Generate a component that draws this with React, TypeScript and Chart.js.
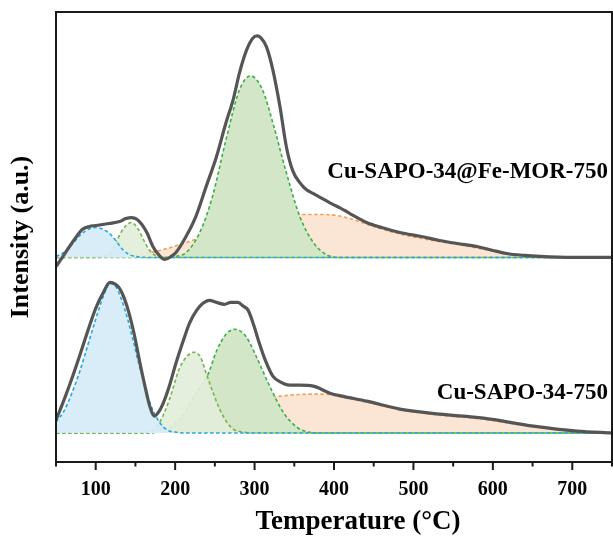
import React, { useEffect, useRef } from "react";
import { Chart, registerables } from "chart.js";

Chart.register(...registerables);

// ---- axis ----
const X_MIN = 50;
const X_MAX = 750;
const X_TICKS = [100, 200, 300, 400, 500, 600, 700];
const X_MINOR_STEP = 50;
const Y_MIN = -29;
const Y_MAX = 422;
const TOP_OFFSET = 176; // vertical stacking offset of the upper sample

const LABEL_TOP = "Cu-SAPO-34@Fe-MOR-750";
const LABEL_BOTTOM = "Cu-SAPO-34-750";
const X_TITLE = "Temperature (°C)";
const Y_TITLE = "Intensity (a.u.)";

// ---- Cu-SAPO-34@Fe-MOR-750 (upper) : [temperature, intensity] ----
const topCurve = [
  [50, -9], [58, 0], [67, 11], [75, 20], [83, 28], [92, 31], [100, 32], [117, 34], [130, 36],
  [138, 39], [145, 40], [150, 39], [155, 36], [160, 31], [165, 24], [172, 11], [180, 2],
  [187, -2], [195, 1], [201, 5], [213, 20], [226, 41], [239, 71], [252, 101], [264, 135],
  [273, 158], [281, 185], [290, 208], [298, 220], [303, 222], [308, 220], [315, 211],
  [323, 188], [332, 151], [340, 111], [348, 87], [357, 75], [365, 68], [374, 64], [383, 60],
  [399, 53], [407, 50], [420, 44], [441, 35], [460, 30], [483, 25], [510, 21], [533, 17],
  [555, 14], [580, 11], [600, 7], [617, 4], [640, 2], [659, 1], [700, 0], [750, 0],
];
const topBlue = [
  [50, 1], [60, 5], [70, 13], [80, 22], [90, 28], [100, 30], [110, 28], [120, 22], [127, 15],
  [134, 8], [142, 3], [150, 1], [165, 0], [750, 0],
];
const topLightGreen = [
  [50, 0], [100, 0], [110, 1], [119, 5], [126, 16], [135, 29], [145, 35], [153, 29], [160, 18],
  [167, 8], [175, 2], [185, 0], [750, 0],
];
const topGreen = [
  [50, 0], [190, 0], [200, 1], [214, 5], [231, 25], [247, 61], [264, 118], [281, 168],
  [295, 182], [310, 168], [323, 135], [340, 85], [357, 41], [374, 15], [390, 3], [410, 0],
  [750, 0],
];
const topOrange = [
  [50, 0], [130, 1], [150, 2], [170, 5], [190, 9], [210, 14], [240, 22], [270, 31], [300, 38],
  [330, 42], [360, 43], [390, 43], [420, 39], [450, 31], [480, 24], [510, 19], [540, 15],
  [570, 11], [600, 6.5], [630, 3], [660, 1], [690, 0], [750, 0],
];

// ---- Cu-SAPO-34-750 (lower) : [temperature, intensity] ----
const bottomCurve = [
  [50, 13], [60, 33], [71, 57], [80, 78], [92, 107], [100, 125], [109, 140], [118, 151],
  [125, 149], [130, 145], [136, 135], [142, 120], [149, 97], [155, 73], [162, 47], [168, 27],
  [174, 17], [180, 22], [185, 30], [193, 48], [201, 70], [210, 92], [218, 110], [227, 123],
  [235, 130], [243, 133], [252, 131], [262, 129], [270, 131], [279, 131], [286, 127],
  [292, 123], [299, 108], [306, 90], [314, 72], [323, 57], [333, 51], [344, 48], [357, 48],
  [374, 47], [395, 40], [410, 37], [441, 32], [483, 24], [533, 19], [588, 15], [651, 7],
  [706, 2], [750, 0],
];
const bottomBlue = [
  [50, 11], [60, 22], [70, 40], [80, 62], [90, 88], [100, 114], [110, 138], [118, 150],
  [125, 147], [132, 135], [140, 115], [148, 90], [155, 67], [162, 47], [168, 31], [175, 18],
  [181, 10], [190, 3], [200, 1], [215, 0], [750, 0],
];
const bottomLightGreen = [
  [50, 0], [160, 0], [172, 3], [180, 10], [193, 34], [205, 64], [215, 77], [224, 81],
  [232, 76], [239, 60], [248, 40], [256, 24], [265, 11], [273, 4], [285, 1], [300, 0], [750, 0],
];
const bottomGreen = [
  [50, 0], [170, 0], [180, 2], [195, 6], [210, 18], [225, 38], [241, 58], [252, 82], [264, 99],
  [275, 104], [289, 97], [302, 77], [319, 47], [336, 21], [353, 6], [365, 1.5], [380, 0],
  [750, 0],
];
const bottomOrange = [
  [50, 0], [170, 1], [185, 3], [200, 5], [220, 10], [240, 16], [260, 23], [280, 29], [300, 33],
  [323, 36], [345, 38], [370, 39], [390, 39], [410, 36], [441, 31], [483, 23.5], [533, 18],
  [588, 14], [620, 10], [651, 6.5], [680, 3.5], [706, 1.5], [730, 0.5], [750, 0],
];

// ---- styles ----
const CURVE = { line: "#555555", fill: null };
const BLUE = { line: "#22a8e0", fill: "rgba(214,235,248,0.92)" };
const LGREEN = { line: "#79b24a", fill: "rgba(226,238,218,0.92)" };
const GREEN = { line: "#3aae48", fill: "rgb(211,231,200)" };
const ORANGE = { line: "#f2a05a", fill: "rgb(251,230,213)" };

const FONT = '"Liberation Serif", "Times New Roman", serif';

function makeDataset(points: number[][], offset: number, style: any, main: boolean, order: number) {
  return {
    data: points.map(([t, v]) => ({ x: t, y: v + offset })),
    borderColor: style.line,
    backgroundColor: style.fill || "transparent",
    fill: style.fill ? { value: offset } : false,
    borderWidth: main ? 3.2 : 1.6,
    borderDash: main ? [] : [3.5, 2.5],
    pointRadius: 0,
    cubicInterpolationMode: "monotone",
    order,
  };
}

const decorPlugin = {
  id: "decor",
  afterDraw(chart: any) {
    const { ctx, chartArea: a, scales } = chart;
    const x = scales.x;
    const y = scales.y;
    ctx.save();
    // frame
    ctx.strokeStyle = "#1a1a1a";
    ctx.lineWidth = 2;
    ctx.strokeRect(a.left, a.top, a.right - a.left, a.bottom - a.top);
    // x ticks (major & minor, outward)
    for (let v = X_MIN; v <= X_MAX; v += X_MINOR_STEP) {
      const px = x.getPixelForValue(v);
      const major = X_TICKS.includes(v);
      ctx.beginPath();
      ctx.moveTo(px, a.bottom);
      ctx.lineTo(px, a.bottom + (major ? 8 : 4.5));
      ctx.stroke();
    }
    // sample labels
    ctx.fillStyle = "#000";
    ctx.font = `bold 23px ${FONT}`;
    ctx.textAlign = "right";
    ctx.textBaseline = "middle";
    ctx.fillText(LABEL_TOP, x.getPixelForValue(745), y.getPixelForValue(TOP_OFFSET + 86));
    ctx.fillText(LABEL_BOTTOM, x.getPixelForValue(745), y.getPixelForValue(40));
    // axis titles
    ctx.font = `bold 27px ${FONT}`;
    ctx.textAlign = "center";
    ctx.fillText(X_TITLE, 358, 522);
    ctx.save();
    ctx.font = `bold 26px ${FONT}`;
    ctx.translate(21, (a.top + a.bottom) / 2);
    ctx.rotate(-Math.PI / 2);
    ctx.fillText(Y_TITLE, 0, 0);
    ctx.restore();
    ctx.restore();
  },
};

export default function App() {
  const canvasRef = useRef<HTMLCanvasElement | null>(null);

  useEffect(() => {
    document.body.style.margin = "0";
    const canvas = canvasRef.current;
    if (!canvas) return;
    const datasets = [
      makeDataset(topCurve, TOP_OFFSET, CURVE, true, 0),
      makeDataset(topBlue, TOP_OFFSET, BLUE, false, 1),
      makeDataset(topLightGreen, TOP_OFFSET, LGREEN, false, 2),
      makeDataset(topGreen, TOP_OFFSET, GREEN, false, 3),
      makeDataset(topOrange, TOP_OFFSET, ORANGE, false, 4),
      makeDataset(bottomCurve, 0, CURVE, true, 0),
      makeDataset(bottomBlue, 0, BLUE, false, 1),
      makeDataset(bottomLightGreen, 0, LGREEN, false, 2),
      makeDataset(bottomGreen, 0, GREEN, false, 3),
      makeDataset(bottomOrange, 0, ORANGE, false, 4),
    ];
    const chart = new Chart(canvas, {
      type: "line",
      data: { datasets: datasets as any },
      options: {
        animation: false,
        responsive: true,
        maintainAspectRatio: false,
        layout: { padding: { left: 56, top: 12, right: 1, bottom: 18 } },
        plugins: { legend: { display: false }, tooltip: { enabled: false } },
        scales: {
          x: {
            type: "linear",
            min: X_MIN,
            max: X_MAX,
            afterBuildTicks: (scale: any) => {
              scale.ticks = X_TICKS.map((v) => ({ value: v }));
            },
            grid: { drawOnChartArea: false, drawTicks: false },
            border: { display: false },
            ticks: {
              padding: 16,
              color: "#000",
              maxRotation: 0,
              autoSkip: false,
              font: { family: FONT, size: 20, weight: "bold" },
            },
          },
          y: {
            type: "linear",
            min: Y_MIN,
            max: Y_MAX,
            display: false,
          },
        },
      } as any,
      plugins: [decorPlugin],
    });
    return () => chart.destroy();
  }, []);

  return (
    <div style={{ position: "relative", width: 613, height: 536 }}>
      <canvas ref={canvasRef} />
    </div>
  );
}
